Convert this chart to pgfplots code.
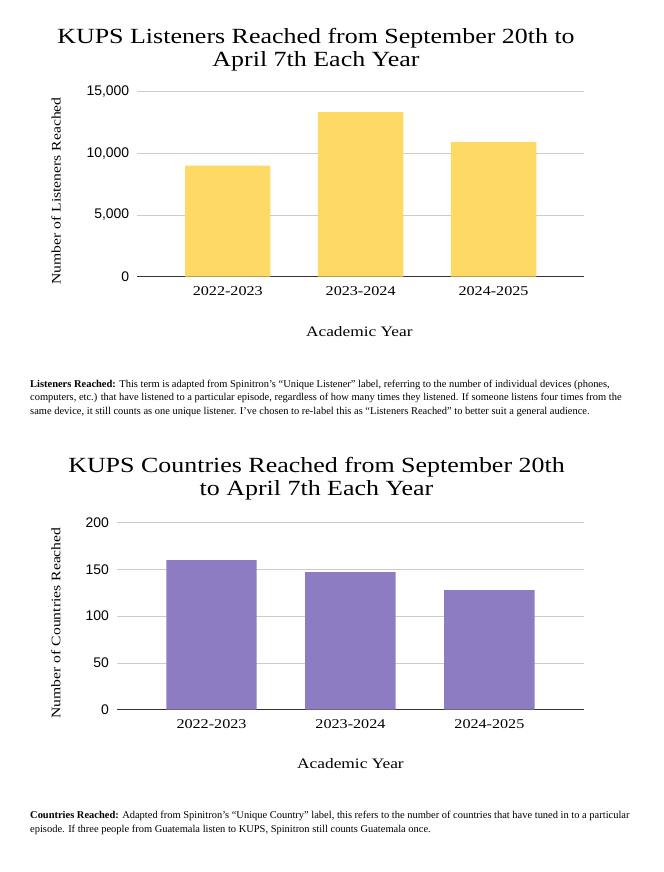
\documentclass[border=0pt]{standalone}
\usepackage{pgfplots}
\pgfplotsset{compat=1.18}
\usepackage{fontspec}
\setmainfont{Liberation Serif}
\setsansfont{Liberation Sans}
\newfontfamily\georgia{Liberation Serif}[FakeStretch=1.2]
\definecolor{baryellow}{HTML}{FFD966}
\definecolor{barpurple}{HTML}{8E7CC3}
\definecolor{gridgray}{HTML}{CCCCCC}
\definecolor{axisdark}{HTML}{333333}
\newcommand{\fs}[1]{\fontsize{#1}{#1}\selectfont}
\pgfplotsset{
  kups/.style={
    scale only axis,
    axis lines*=left,
    x axis line style={draw=axisdark, line width=1pt, -},
    y axis line style={draw=none},
    major tick length=0pt,
    ymajorgrids,
    grid style={gridgray, line width=0.8pt},
    xmin=-0.68, xmax=2.68, ymin=0,
    xtick={0,1,2},
    xticklabels={2022-2023,2023-2024,2024-2025},
    xticklabel style={font=\georgia\fs{13.5}, anchor=base, yshift=-18.5bp, inner sep=0pt},
    yticklabel style={font=\sffamily\fs{14}, anchor=east, inner sep=0pt, xshift=-8bp},
    /pgf/number format/assume math mode=true,
    /pgf/number format/.cd, 1000 sep={,},
    /pgfplots/.cd,
    scaled y ticks=false,
    ybar, bar shift=0pt,
    clip=false,
  }
}
\begin{document}
\begin{tikzpicture}[x=1bp,y=1bp]
\path[use as bounding box] (0,0) rectangle (664,872);
% ---------- Top chart ----------
\begin{axis}[kups,
  at={(137.4bp,595.3bp)}, anchor=south west,
  width=446.5bp, height=185bp,
  ymax=15000, ytick={0,5000,10000,15000},
  bar width=0.643,
  xlabel={Academic Year},
  xlabel style={font=\georgia\fs{14.5}, at={(axis description cs:0.497,-0.297)}, anchor=center},
  ylabel={Number of Listeners Reached},
  ylabel style={font=\georgia\fs{13.1}, at={(axis description cs:-0.182,0.463)}, anchor=center},
]
\addplot[fill=baryellow, draw=none] coordinates {(0,9000) (1,13350) (2,10920)};
\end{axis}
% ---------- Bottom chart ----------
\begin{axis}[kups,
  at={(117bp,162.3bp)}, anchor=south west,
  width=466.9bp, height=187bp,
  ymax=200, ytick={0,50,100,150,200},
  bar width=0.651,
  xlabel={Academic Year},
  xlabel style={font=\georgia\fs{14.5}, at={(axis description cs:0.5,-0.290)}, anchor=center},
  ylabel={Number of Countries Reached},
  ylabel style={font=\georgia\fs{13.1}, at={(axis description cs:-0.131,0.464)}, anchor=center},
]
\addplot[fill=barpurple, draw=none] coordinates {(0,160) (1,147) (2,128)};
\end{axis}
% ---------- Titles ----------
\begin{scope}[every node/.style={anchor=base, inner sep=0pt, font=\georgia\fs{21.7}}]
\node at (316,828) {KUPS Listeners Reached from September 20th to};
\node at (316,805) {April 7th Each Year};
\node at (316.5,399) {KUPS Countries Reached from September 20th};
\node at (316.5,376) {to April 7th Each Year};
\end{scope}
% ---------- Notes ----------
\begin{scope}[every node/.style={anchor=base west, inner sep=0pt, font=\fs{10.5}}]
\node at (30,484.7) {\textbf{Listeners Reached:} This term is adapted from Spinitron’s “Unique Listener” label, referring to the number of individual devices (phones,};
\node at (30,471.0) {computers, etc.) that have listened to a particular episode, regardless of how many times they listened. If someone listens four times from the};
\node at (30,457.3) {same device, it still counts as one unique listener. I’ve chosen to re-label this as “Listeners Reached” to better suit a general audience.};
\node at (30,53.7) {\textbf{Countries Reached:} Adapted from Spinitron’s “Unique Country” label, this refers to the number of countries that have tuned in to a particular};
\node at (30,39.7) {episode. If three people from Guatemala listen to KUPS, Spinitron still counts Guatemala once.};
\end{scope}
\end{tikzpicture}
\end{document}
